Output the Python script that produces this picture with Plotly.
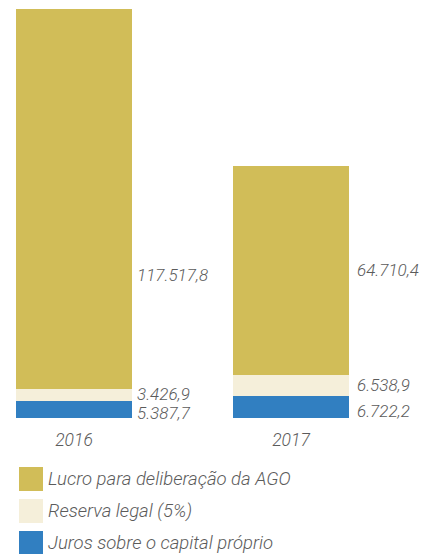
import plotly.graph_objects as go

years = ["2016", "2017"]
series_names = ["Juros sobre o capital próprio", "Reserva legal (5%)", "Lucro para deliberação da AGO"]
juros = [5387.7, 6722.2]
reserva = [3426.9, 6538.9]
lucro = [117517.8, 64710.4]
colors = ["#317FC1", "#F5EFDA", "#D1BD58"]

W, H = 429, 554
PLOT_BOTTOM = 418  # pixel row of the baseline
FONT = "Roboto"
TXT = "#5b5b5b"

def fmt(v):
    s = f"{v:,.1f}"
    return s.replace(",", "X").replace(".", ",").replace("X", ".")

def py(p):  # pixel row -> paper y
    return (PLOT_BOTTOM - p) / PLOT_BOTTOM

def px(p):
    return p / W

def tfont(size):
    return dict(family=FONT, size=size, color=TXT, style="italic", weight=300)

fig = go.Figure()
values = [juros, reserva, lucro]
for name, vals, col in zip(series_names, values, colors):
    fig.add_trace(go.Bar(x=years, y=vals, name=name, marker=dict(color=col, line=dict(width=0)),
                         showlegend=False, hoverinfo="skip"))

# value labels
annotations = []
lucro_label_rows = [275, 270]
label_xshift = [61, 64]
seg_yshift = [-4, 1]
for i, yr in enumerate(years):
    base = 0
    for k, vals in enumerate(values[:2]):
        mid = base + vals[i] / 2
        base += vals[i]
        annotations.append(dict(x=i, y=mid, xref="x", yref="y", text=fmt(vals[i]),
                                showarrow=False, xanchor="left", yanchor="middle",
                                xshift=label_xshift[i], yshift=seg_yshift[k], font=tfont(17)))
    annotations.append(dict(x=i, y=py(lucro_label_rows[i]), xref="x", yref="paper",
                            text=fmt(lucro[i]), showarrow=False, xanchor="left", yanchor="middle",
                            xshift=label_xshift[i], font=tfont(17)))

# custom legend (top to bottom: lucro, reserva, juros)
shapes = []
legend_rows = [479, 511, 543]
for row, name, col in zip(legend_rows, series_names[::-1], colors[::-1]):
    shapes.append(dict(type="rect", xref="paper", yref="paper",
                       x0=px(19), x1=px(43), y0=py(row - 12), y1=py(row + 12),
                       fillcolor=col, line=dict(width=0)))
    annotations.append(dict(x=px(46), y=py(row), xref="paper", yref="paper", text=name,
                            showarrow=False, xanchor="left", yanchor="middle", font=tfont(18.5)))

total_max = max(a + b + c for a, b, c in zip(juros, reserva, lucro))
fig.update_layout(
    width=W, height=H,
    margin=dict(l=0, r=0, t=0, b=H - PLOT_BOTTOM),
    barmode="stack", bargap=1 - 116 / 217,
    paper_bgcolor="white", plot_bgcolor="white",
    xaxis=dict(type="category", range=[-74 / 217, (W - 74) / 217], showgrid=False, zeroline=False,
               showline=False, ticks="", ticklabelstandoff=9, tickfont=tfont(17.5)),
    yaxis=dict(range=[0, total_max * PLOT_BOTTOM / 409], visible=False, fixedrange=True),
    annotations=annotations, shapes=shapes,
    font=dict(family=FONT),
)

fig.write_html("out.html", config={"displayModeBar": False},
               post_script="document.body.style.margin='0';")
